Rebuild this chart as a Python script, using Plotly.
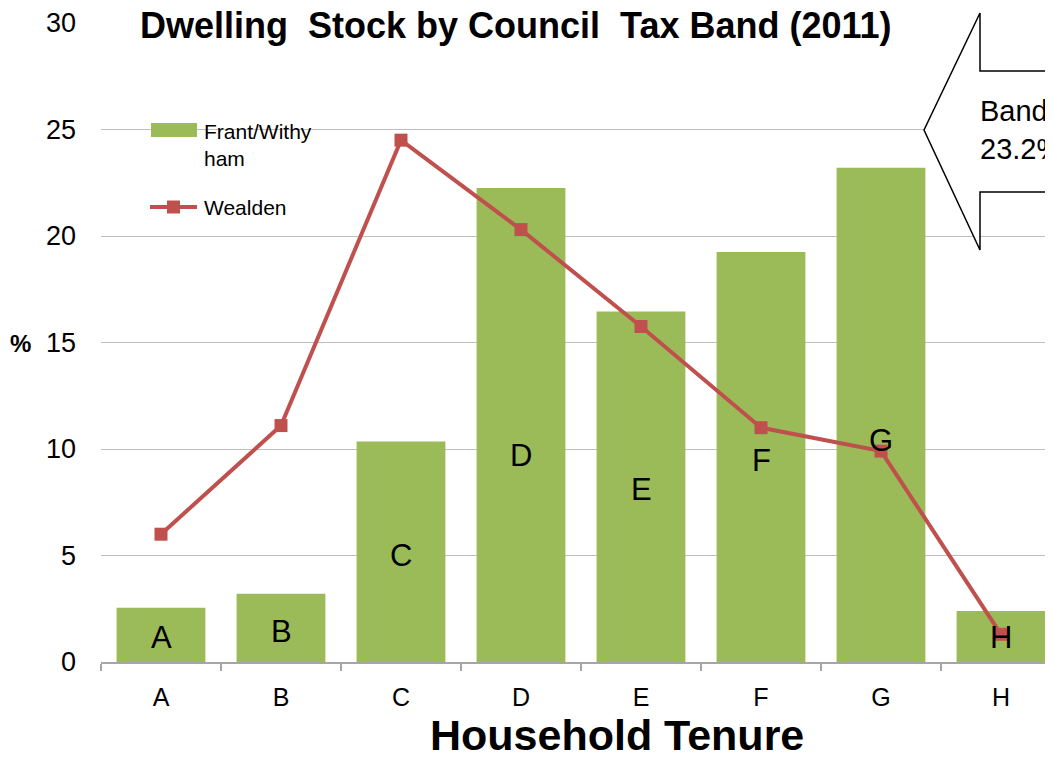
import plotly.graph_objects as go

categories = ["A", "B", "C", "D", "E", "F", "G", "H"]
frant_withyham = [2.55, 3.2, 10.35, 22.25, 16.45, 19.25, 23.2, 2.4]
wealden = [6.0, 11.1, 24.5, 20.3, 15.75, 11.0, 9.9, 1.3]
bar_label_y = [1.15, 1.45, 5.0, 9.7, 8.1, 9.45, 10.4, 1.15]

# page is offset by the 8px default body margin
OFF = 8
W, H = 1053 - OFF, 758 - OFF
PLOT_L, PLOT_T, PLOT_B = 101, 23, 662   # page pixel coords of plot area
PW = 1053 - PLOT_L
PH = PLOT_B - PLOT_T

def px(x):
    return (x - PLOT_L) / PW

def py(y):
    return (PLOT_B - y) / PH

FONT = "Liberation Sans, Arial, sans-serif"
GREEN = "#9bbb59"
RED = "#c0504d"

fig = go.Figure()
fig.add_trace(go.Bar(
    x=categories, y=frant_withyham, name="Frant/Withyham",
    marker=dict(color=GREEN, line=dict(width=0)), width=0.74,
))
fig.add_trace(go.Scatter(
    x=categories, y=wealden, name="Wealden", mode="lines+markers",
    line=dict(color=RED, width=4),
    marker=dict(symbol="square", size=13, color=RED),
))

annotations = []
for c, ly in zip(categories, bar_label_y):
    annotations.append(dict(x=c, y=ly, text=c, showarrow=False,
                            font=dict(family=FONT, size=31, color="black"),
                            xanchor="center", yanchor="middle"))

annotations += [
    dict(xref="paper", yref="paper", x=px(516), y=py(25), text="<b>Dwelling  Stock by Council  Tax Band (2011)</b>",
         showarrow=False, font=dict(family=FONT, size=36, color="black"), xanchor="center", yanchor="middle"),
    dict(xref="paper", yref="paper", x=px(617), y=py(735), text="<b>Household Tenure</b>",
         showarrow=False, font=dict(family=FONT, size=43, color="black"), xanchor="center", yanchor="middle"),
    dict(xref="paper", yref="paper", x=px(20), y=py(344), text="<b>%</b>",
         showarrow=False, font=dict(family=FONT, size=24, color="black"), xanchor="center", yanchor="middle"),
    dict(xref="paper", yref="paper", x=px(978), y=py(130), text="Band<br>23.2%",
         showarrow=False, font=dict(family=FONT, size=29, color="black"), xanchor="left", yanchor="middle", align="left"),
    dict(xref="paper", yref="paper", x=px(202), y=py(145), text="Frant/Withy<br>ham",
         showarrow=False, font=dict(family=FONT, size=21, color="black"), xanchor="left", yanchor="middle", align="left"),
    dict(xref="paper", yref="paper", x=px(202), y=py(207), text="Wealden",
         showarrow=False, font=dict(family=FONT, size=21, color="black"), xanchor="left", yanchor="middle", align="left"),
]

arrow_path = "M {},{} L {},{} L {},{} L {},{} L {},{} L {},{} L {},{}".format(
    px(1070), py(71), px(980), py(71), px(980), py(13), px(924), py(130),
    px(980), py(250), px(980), py(192), px(1070), py(192))

shapes = [
    dict(type="path", xref="paper", yref="paper", path=arrow_path,
         line=dict(color="black", width=1.5), fillcolor="white", layer="above"),
    dict(type="path", xref="paper", yref="paper",
         path="M {},{} Q {},{} {},{}".format(px(1058), py(346), px(1046), py(370), px(1056), py(408)),
         line=dict(color="black", width=2.5)),
    # legend
    dict(type="rect", xref="paper", yref="paper", x0=px(151), x1=px(197), y0=py(137), y1=py(123),
         fillcolor=GREEN, line=dict(width=0)),
    dict(type="line", xref="paper", yref="paper", x0=px(150), x1=px(197), y0=py(207), y1=py(207),
         line=dict(color=RED, width=4)),
    dict(type="rect", xref="paper", yref="paper", x0=px(167), x1=px(180), y0=py(213.5), y1=py(200.5),
         fillcolor=RED, line=dict(width=0)),
]

fig.update_layout(
    width=W, height=H,
    margin=dict(l=PLOT_L - OFF, r=0, t=PLOT_T - OFF, b=H - (PLOT_B - OFF)),
    paper_bgcolor="white", plot_bgcolor="white",
    showlegend=False,
    bargap=0.26,
    annotations=annotations,
    shapes=shapes,
    xaxis=dict(range=[-0.5, -0.5 + PW / 120], showgrid=False, showline=True, linecolor="#a6a6a6", linewidth=1.5,
               ticks="outside", tickson="boundaries", ticklen=7, tickcolor="#a6a6a6", tickwidth=1.5,
               ticklabelstandoff=12,
               tickfont=dict(family=FONT, size=25, color="black"), fixedrange=True),
    yaxis=dict(range=[0, 30], dtick=5, showgrid=True, gridcolor="#bfbfbf", gridwidth=1.2,
               zeroline=False, showline=False, ticks="", ticklabelstandoff=24,
               tickfont=dict(family=FONT, size=27, color="black")),
)

fig.write_html("out.html")
